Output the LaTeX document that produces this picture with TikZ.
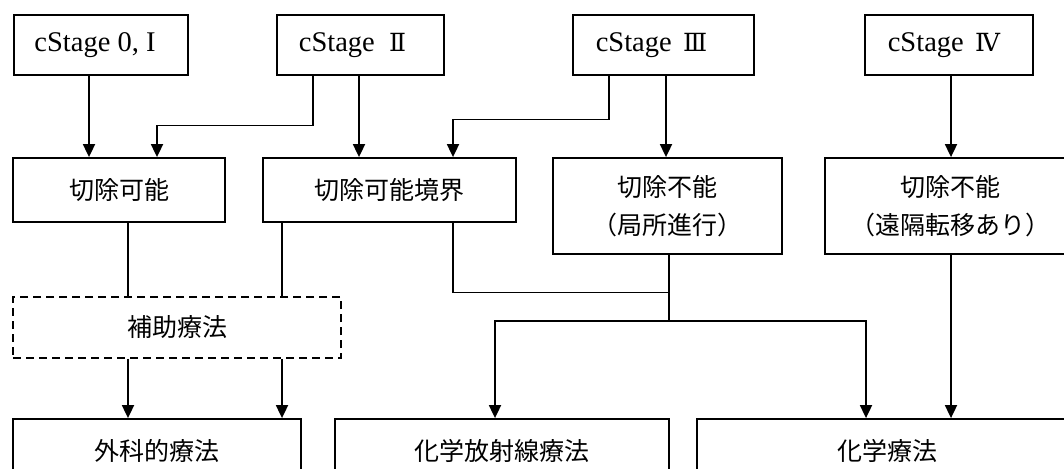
\documentclass[tikz,border=0pt]{standalone}
\usepackage{fontspec}
\setmainfont{Liberation Serif}
\newfontfamily\jp{Noto Sans CJK JP}
\newfontfamily\rn{DejaVu Serif}
\usetikzlibrary{arrows.meta}
\begin{document}
\begin{tikzpicture}[x=1pt,y=-1pt,line width=1.8pt,
  box/.style={draw, line width=1.8pt, inner sep=0pt, align=center},
  stagebox/.style={box, minimum height=60pt, font=\fontsize{28.5}{32}\selectfont},
  jpbox/.style={box, font=\jp\fontsize{25}{38}\selectfont},
  dashbox/.style={jpbox, dash pattern=on 8pt off 5pt},
  arr/.style={-{Triangle[width=12pt,length=13pt]}},
  link/.style={line width=1.8pt}]
\useasboundingbox (0,0) rectangle (1064,468);
\clip (0,0) rectangle (1064,468);
% top row
\node[stagebox, minimum width=174pt] (s0) at (101,45) {cStage 0, I\hspace{12pt}};
\node[stagebox, minimum width=167pt] (s2) at (360.5,45) {cStage\hspace{0.5em}{\rn\fontsize{25}{30}\selectfont Ⅱ}\hspace{16pt}};
\node[stagebox, minimum width=181pt] (s3) at (663.5,45) {cStage\hspace{0.4em}{\rn\fontsize{25}{30}\selectfont Ⅲ}\hspace{24pt}};
\node[stagebox, minimum width=168pt] (s4) at (949,45) {cStage\hspace{0.4em}{\rn\fontsize{25}{30}\selectfont Ⅳ}\hspace{10pt}};
% second row
\node[jpbox, minimum width=212pt, minimum height=64pt] (r1) at (119,190) {切除可能};
\node[jpbox, minimum width=253pt, minimum height=64pt] (r2) at (389.5,190) {切除可能境界};
\node[jpbox, minimum width=229pt, minimum height=96pt] (r3) at (667.5,206) {切除不能\\（局所進行）};
\node[jpbox, minimum width=250pt, minimum height=96pt] (r4) at (950,206) {切除不能\\（遠隔転移あり）};
% adjuvant
\node[dashbox, minimum width=328pt, minimum height=61pt] (h) at (177,327.5) {補助療法};
% bottom row
\node[jpbox, minimum width=288pt, minimum height=63pt] (b1) at (157,450.5) {外科的療法};
\node[jpbox, minimum width=334pt, minimum height=63pt] (b2) at (502,450.5) {化学放射線療法};
\node[jpbox, minimum width=380pt, minimum height=63pt] (b3) at (887,450.5) {化学療法};
% lanes
\coordinate (L1) at (89,0);
\coordinate (L2) at (313,0);
\coordinate (L3) at (157,0);
\coordinate (L4) at (359,0);
\coordinate (L5) at (609,0);
\coordinate (L6) at (453,0);
\coordinate (L7) at (666,0);
\coordinate (L8) at (951,0);
\coordinate (L9) at (128,0);
\coordinate (L10) at (282,0);
\coordinate (L11) at (495,0);
\coordinate (L12) at (866,0);
\coordinate (L13) at (669,0);
\coordinate (Y1) at (0,125.5);
\coordinate (Y2) at (0,119.5);
\coordinate (Y3) at (0,292.5);
\coordinate (Y4) at (0,321);
% connectors
\draw[arr] (s0.south -| L1) -- (r1.north -| L1);
\draw[arr] (s2.south -| L2) -- (L2 |- Y1) -- (L3 |- Y1) -- (r1.north -| L3);
\draw[arr] (s2.south -| L4) -- (r2.north -| L4);
\draw[arr] (s3.south -| L5) -- (L5 |- Y2) -- (L6 |- Y2) -- (r2.north -| L6);
\draw[arr] (s3.south -| L7) -- (r3.north -| L7);
\draw[arr] (s4.south -| L8) -- (r4.north -| L8);
\draw[link] (r1.south -| L9) -- (h.north -| L9);
\draw[link] (r2.south -| L10) -- (h.north -| L10);
\draw[arr] (h.south -| L9) -- (b1.north -| L9);
\draw[arr] (h.south -| L10) -- (b1.north -| L10);
\draw[link] (r2.south -| L6) -- (L6 |- Y3) -- (L13 |- Y3);
\draw[arr] (r3.south -| L13) -- (L13 |- Y4) -| (b2.north -| L11);
\draw[arr] (L13 |- Y4) -| (b3.north -| L12);
\draw[arr] (r4.south -| L8) -- (b3.north -| L8);
\end{tikzpicture}
\end{document}
